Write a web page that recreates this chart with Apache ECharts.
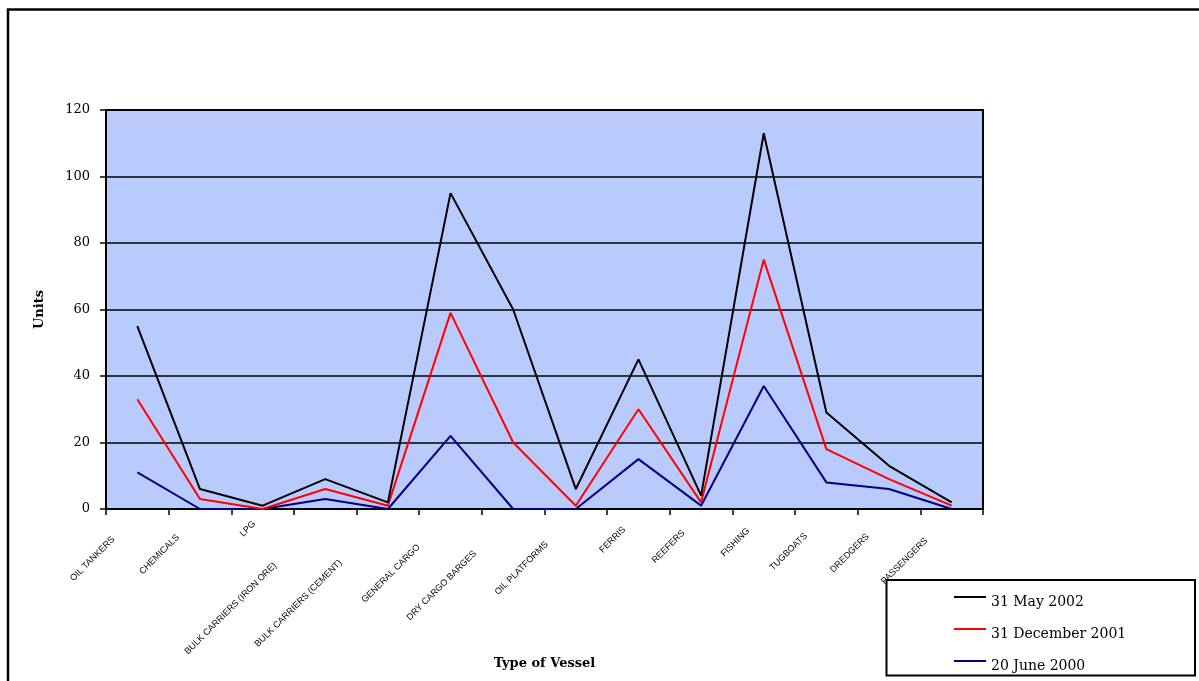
<!DOCTYPE html>
<html>
<head>
<meta charset="utf-8">
<title>Vessels by type</title>
<script src="https://cdn.jsdelivr.net/npm/echarts@6/dist/echarts.min.js"></script>
<style>
  html, body { margin: 0; padding: 0; background: #ffffff; }
  #chart { width: 1199px; height: 681px; }
</style>
</head>
<body>
<div id="chart"></div>
<script>
// Vessel categories on the x axis
const categories = [
  'OIL TANKERS', 'CHEMICALS', 'LPG', 'BULK CARRIERS (IRON ORE)',
  'BULK CARRIERS (CEMENT)', 'GENERAL CARGO', 'DRY CARGO BARGES',
  'OIL PLATFORMS', 'FERRIS', 'REEFERS', 'FISHING', 'TUGBOATS',
  'DREDGERS', 'PASSENGERS'
];

// Number of units per vessel type at each date
const may2002 = [55, 6, 1, 9, 2, 95, 60, 6, 45, 4, 113, 29, 13, 2];
const dec2001 = [33, 3, 0, 6, 1, 59, 20, 1, 30, 2, 75, 18, 9, 1];
const jun2000 = [11, 0, 0, 3, 0, 22, 0, 0, 15, 1, 37, 8, 6, 0];

const seriesNames = ['31 May 2002', '31 December 2001', '20 June 2000'];

const serif = "'DejaVu Serif', 'Liberation Serif', serif";
const narrow = "'Liberation Sans Narrow', 'Liberation Sans', Arial, sans-serif";
const catFontSize = 9;

// Rotated category labels sit further down the diagonal the longer they are
const measureCtx = document.createElement('canvas').getContext('2d');
measureCtx.font = catFontSize + 'px ' + narrow;
const catRich = {};
categories.forEach(function (c, i) {
  const w = measureCtx.measureText(c).width;
  catRich['c' + i] = {
    fontFamily: narrow,
    fontSize: catFontSize,
    color: '#000',
    padding: [0, Math.round(w * 0.55 + 2), 0, 0]
  };
});

const chart = echarts.init(document.getElementById('chart'), null, { renderer: 'canvas' });

chart.setOption({
  animation: false,
  backgroundColor: '#ffffff',
  graphic: [
    {
      type: 'rect',
      shape: { x: 8, y: 9.5, width: 1300, height: 800 },
      style: { fill: 'none', stroke: '#000', lineWidth: 2.5 },
      silent: true
    },
    {
      type: 'rect',
      shape: { x: 886.5, y: 580, width: 308.5, height: 95.5 },
      style: { fill: '#fff', stroke: '#000', lineWidth: 2 },
      silent: true,
      z: 1
    }
  ],
  grid: {
    left: 106, top: 110, width: 877, height: 399,
    containLabel: false,
    outerBoundsMode: 'none',
    show: true,
    backgroundColor: '#b9cbfd',
    borderColor: '#000',
    borderWidth: 2
  },
  legend: {
    orient: 'vertical',
    left: 954,
    top: 595,
    padding: 0,
    itemWidth: 32,
    itemHeight: 2,
    itemGap: 18,
    icon: 'rect',
    z: 5,
    data: seriesNames,
    formatter: function (name) { return '{t|' + name + '}'; },
    textStyle: {
      fontFamily: serif,
      fontSize: 14,
      color: '#000',
      rich: {
        t: { fontFamily: serif, fontSize: 14, color: '#000', padding: [10, 0, 0, 0] }
      }
    }
  },
  xAxis: {
    type: 'category',
    data: categories,
    boundaryGap: true,
    name: 'Type of Vessel',
    nameLocation: 'middle',
    nameGap: 148,
    nameMoveOverlap: false,
    nameTextStyle: { fontFamily: serif, fontSize: 13, fontWeight: 'bold', color: '#000' },
    axisLine: { show: true, lineStyle: { color: '#000', width: 2 } },
    axisTick: { show: true, inside: false, length: 6, alignWithLabel: false, lineStyle: { color: '#000', width: 1.5 } },
    axisLabel: {
      interval: 0,
      rotate: 45,
      margin: 5,
      hideOverlap: false,
      formatter: function (value, index) { return '{c' + index + '|' + value + '}'; },
      rich: catRich
    },
    splitLine: { show: false }
  },
  yAxis: {
    type: 'value',
    min: 0,
    max: 120,
    interval: 20,
    name: 'Units',
    nameLocation: 'middle',
    nameGap: 60,
    nameRotate: 90,
    nameMoveOverlap: false,
    nameTextStyle: { fontFamily: serif, fontSize: 13, fontWeight: 'bold', color: '#000' },
    axisLine: { show: true, lineStyle: { color: '#000', width: 2 } },
    axisTick: { show: true, inside: false, length: 6, lineStyle: { color: '#000', width: 1.5 } },
    axisLabel: { margin: 16, fontFamily: serif, fontSize: 13, color: '#000' },
    splitLine: { show: true, lineStyle: { color: '#000', width: 1.5 } }
  },
  series: [
    {
      name: seriesNames[0], type: 'line', data: may2002,
      symbol: 'none', color: '#000000',
      lineStyle: { color: '#000000', width: 2 }, z: 4
    },
    {
      name: seriesNames[1], type: 'line', data: dec2001,
      symbol: 'none', color: '#ff0000',
      lineStyle: { color: '#ff0000', width: 2 }, z: 3
    },
    {
      name: seriesNames[2], type: 'line', data: jun2000,
      symbol: 'none', color: '#000080',
      lineStyle: { color: '#000080', width: 2 }, z: 2
    }
  ]
});
</script>
</body>
</html>
